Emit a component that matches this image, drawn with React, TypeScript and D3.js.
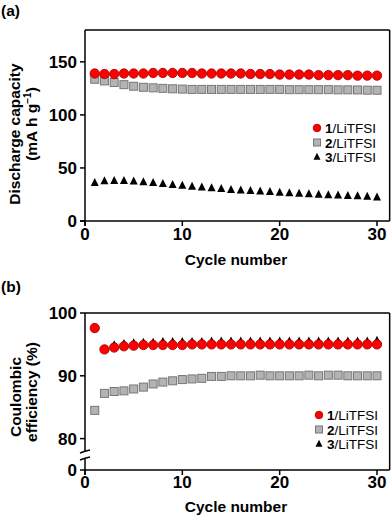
import React from 'react';
import * as d3 from 'd3';

const cycles = d3.range(1, 31);

// panel (a) discharge capacity, mA h g-1
const capA1 = [139, 138.5, 138.5, 139, 139, 139, 139.5, 139.5, 139.5, 139.5, 139.5, 139, 139, 139, 139, 139, 138.5, 138.5, 138.5, 138, 138, 138, 138, 137.5, 137.5, 137.5, 137.5, 137, 137, 137];
const capA2 = [133.6, 132, 130.5, 128.5, 127, 126, 125.5, 125, 124.6, 124.3, 124, 124, 124, 124, 124, 124, 124, 124, 124, 124, 123.8, 123.8, 123.8, 123.8, 123.8, 123.6, 123.6, 123.5, 123.3, 123.2];
const capA3 = [36, 37.7, 38, 38, 37.5, 36.6, 36, 35, 34, 33.4, 32.5, 31.8, 31, 30.3, 29.5, 29, 28.5, 28, 27.5, 26.8, 26.3, 25.8, 25.3, 25, 24.5, 24.2, 23.8, 23.5, 23, 22.4];

// panel (b) coulombic efficiency, %  (series 3 cycle 1 hidden / not shown)
const ceB1 = [97.6, 94.2, 94.5, 94.7, 94.8, 94.9, 94.9, 94.9, 94.9, 94.9, 95, 95, 95, 95, 95, 95, 95, 95, 95, 95, 95, 95, 95, 95, 95, 95, 95, 95, 95, 95];
const ceB2 = [84.5, 87.2, 87.5, 87.6, 87.9, 88.2, 88.7, 89, 89.2, 89.4, 89.5, 89.6, 89.9, 89.9, 90, 90, 90, 90.1, 90, 90, 90, 90, 90.1, 90, 90.1, 90.1, 90, 90, 90, 90];
const ceB3 = [null, 94.2, 94.9, 95.1, 95.2, 95.3, 95.3, 95.4, 95.4, 95.4, 95.4, 95.4, 95.5, 95.5, 95.5, 95.5, 95.5, 95.5, 95.5, 95.5, 95.5, 95.5, 95.5, 95.5, 95.5, 95.5, 95.5, 95.5, 95.5, 95.6];

const xTicks = [0, 10, 20, 30];
const yTicksA = [0, 50, 100, 150];
const yTicksB = [80, 90, 100];
const seriesNames = ['1', '2', '3'];

const FONT = '"Liberation Sans", Arial, sans-serif';

const Circle = ({ x, y, r = 4.7 }: any) => (
  <circle cx={x} cy={y} r={r} fill="#ff0000" stroke="#a00000" strokeWidth={0.8} />
);
const Square = ({ x, y, s = 8 }: any) => (
  <rect x={x - s / 2} y={y - s / 2} width={s} height={s} fill="#b3b3b3" stroke="#777" strokeWidth={1} />
);
const Tri = ({ x, y, s = 8 }: any) => (
  <path d={`M${x},${y - s * 0.6}L${x + s / 2},${y + s * 0.4}L${x - s / 2},${y + s * 0.4}Z`} fill="#000" />
);

const Legend = ({ x, y }: any) => (
  <g fontFamily={FONT} fontSize={13.5}>
    {seriesNames.map((n, i) => {
      const cy = y + i * 14.5;
      return (
        <g key={n}>
          {i === 0 && <Circle x={x} y={cy} r={3.8} />}
          {i === 1 && <Square x={x} y={cy} s={7} />}
          {i === 2 && <Tri x={x} y={cy} s={7} />}
          <text x={x + 8} y={cy + 5}>
            <tspan fontWeight="bold">{n}</tspan>/LiTFSI
          </text>
        </g>
      );
    })}
  </g>
);

const Frame = ({ x, top, bottom, breakAxis }: any) => {
  const left = x(0);
  const right = x(31.3);
  return (
    <g stroke="#000" strokeWidth={1.5} fill="none">
      <line x1={left} x2={right} y1={top} y2={top} />
      <line x1={right} x2={right} y1={top} y2={bottom} />
      <line x1={left - 5} x2={right} y1={bottom} y2={bottom} />
      {breakAxis ? (
        <>
          <line x1={left} x2={left} y1={top} y2={breakAxis[0]} />
          <line x1={left} x2={left} y1={breakAxis[1]} y2={bottom + 5} />
          <path d={`M${left - 5},${breakAxis[0] + 1}Q${left},${breakAxis[0] - 1} ${left + 5},${breakAxis[0] - 2}`} />
          <path d={`M${left - 5},${breakAxis[1] + 1}Q${left},${breakAxis[1] - 1} ${left + 5},${breakAxis[1] - 2}`} />
        </>
      ) : (
        <line x1={left} x2={left} y1={top} y2={bottom + 5} />
      )}
      {xTicks.map((t) => (
        <line key={t} x1={x(t)} x2={x(t)} y1={bottom} y2={bottom + 5} />
      ))}
    </g>
  );
};

export default function App() {
  const x = d3.scaleLinear().domain([0, 30]).range([85, 377]);
  const yA = d3.scaleLinear().domain([0, 180]).range([221, 30]);
  const yB = d3.scaleLinear().domain([75, 100]).range([470, 313]);

  return (
    <svg width={392} height={522} style={{ position: 'absolute', left: 0, top: 0 }}>
      <rect width={392} height={522} fill="#fff" />
      <g fontFamily={FONT} fontWeight="bold">
        {/* panel (a) */}
        <text x={1} y={16} fontSize={15.5}>(a)</text>
        <Frame x={x} top={yA(180)} bottom={yA(0)} />
        {yTicksA.map((t) => (
          <g key={t}>
            <line x1={80} x2={85} y1={yA(t)} y2={yA(t)} stroke="#000" strokeWidth={1.5} />
            <text x={77} y={yA(t) + 6} fontSize={17} textAnchor="end">{t}</text>
          </g>
        ))}
        {xTicks.map((t) => (
          <text key={t} x={x(t)} y={240} fontSize={17} textAnchor="middle">{t}</text>
        ))}
        <text x={236} y={265} fontSize={15.5} textAnchor="middle">Cycle number</text>
        <text transform="translate(20,134) rotate(-90)" fontSize={15.5} textAnchor="middle">Discharge capacity</text>
        <text transform="translate(37,124) rotate(-90)" fontSize={15.5} textAnchor="middle">
          (mA h g<tspan fontSize={10} dy={-6}>−1</tspan><tspan dy={6}>)</tspan>
        </text>
        <g>
          {capA3.map((v, i) => <Tri key={'a3' + i} x={x(cycles[i])} y={yA(v)} />)}
          {capA2.map((v, i) => <Square key={'a2' + i} x={x(cycles[i])} y={yA(v)} />)}
          {capA1.map((v, i) => <Circle key={'a1' + i} x={x(cycles[i])} y={yA(v)} />)}
        </g>
        <g fontWeight="normal">
          <Legend x={317} y={128} />
        </g>

        {/* panel (b) */}
        <text x={1} y={292} fontSize={15.5}>(b)</text>
        <Frame x={x} top={yB(100)} bottom={yB(75)} breakAxis={[452, 459]} />
        {yTicksB.map((t) => (
          <g key={t}>
            <line x1={80} x2={85} y1={yB(t)} y2={yB(t)} stroke="#000" strokeWidth={1.5} />
            <text x={77} y={yB(t) + 6} fontSize={17} textAnchor="end">{t}</text>
          </g>
        ))}
        <text x={77} y={yB(75) + 6} fontSize={17} textAnchor="end">0</text>
        {xTicks.map((t) => (
          <text key={t} x={x(t)} y={488} fontSize={17} textAnchor="middle">{t}</text>
        ))}
        <text x={236} y={512} fontSize={15.5} textAnchor="middle">Cycle number</text>
        <text transform="translate(21,397) rotate(-90)" fontSize={15.5} textAnchor="middle">Coulombic</text>
        <text transform="translate(37,392) rotate(-90)" fontSize={15.5} textAnchor="middle">efficiency (%)</text>
        <g>
          {ceB3.map((v, i) => (v == null ? null : <Tri key={'b3' + i} x={x(cycles[i])} y={yB(v)} />))}
          {ceB2.map((v, i) => <Square key={'b2' + i} x={x(cycles[i])} y={yB(v)} />)}
          {ceB1.map((v, i) => <Circle key={'b1' + i} x={x(cycles[i])} y={yB(v)} />)}
        </g>
        <g fontWeight="normal">
          <Legend x={319} y={415} />
        </g>
      </g>
    </svg>
  );
}
